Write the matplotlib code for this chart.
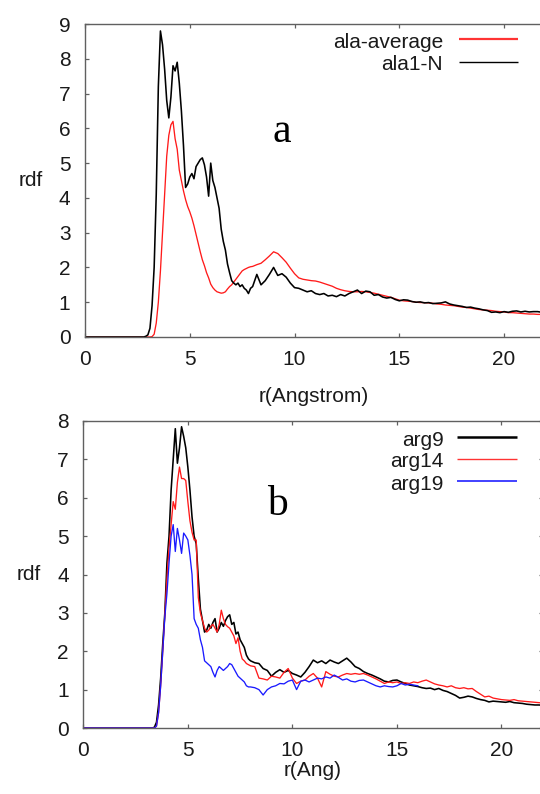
import numpy as np
import matplotlib
matplotlib.use("Agg")
import matplotlib.pyplot as plt

plt.rcParams['font.family'] = ['Liberation Sans', 'DejaVu Sans']

# sampling grid of r (Angstrom): 0, then 2.5..7.9 step 0.1, then 8.0..23.0 step 0.2
r = np.concatenate(([0.0], np.linspace(2.5, 7.9, 55), np.linspace(8.0, 23.0, 76)))

# panel a
ala_average = [0.0,
    0, 0, 0, 0, 0,
    0, 0, 0.01, 0.08, 0.4, 1.0, 1.9, 3.0, 4.1, 5.2,
    5.8, 6.1, 6.2, 5.7, 5.4, 4.8, 4.5, 4.2, 3.95, 3.75,
    3.6, 3.42, 3.2, 2.95, 2.7, 2.45, 2.22, 2.05, 1.85, 1.7,
    1.52, 1.42, 1.35, 1.3, 1.28, 1.26, 1.27, 1.3, 1.38, 1.45,
    1.5, 1.58, 1.66, 1.74, 1.82, 1.9, 1.94, 1.97, 2.0, 2.02,
    2.03, 2.08, 2.12, 2.22, 2.33,
    2.45, 2.4, 2.28, 2.15, 1.98,
    1.82, 1.7, 1.66, 1.64, 1.62,
    1.61, 1.58, 1.54, 1.5, 1.46,
    1.4, 1.36, 1.33, 1.31, 1.3,
    1.3, 1.31, 1.3, 1.28, 1.26,
    1.23, 1.2, 1.17, 1.14, 1.1,
    1.06, 1.04, 1.03, 1.02, 1.0,
    0.99, 0.99, 0.98, 0.97, 0.95,
    0.94, 0.92, 0.91, 0.9, 0.88,
    0.86, 0.85, 0.83, 0.81, 0.79,
    0.78, 0.77, 0.76, 0.74, 0.73,
    0.72, 0.7, 0.7, 0.69, 0.68,
    0.67, 0.66, 0.66, 0.65, 0.65,
    0.64, 0.64, 0.63, 0.63, 0.62,
    0.62]

ala1_N = [0.0,
    0, 0, 0, 0, 0.02,
    0.06, 0.25, 0.9, 2.0, 4.1, 7.2, 8.8, 8.4, 7.7, 6.8,
    6.3, 6.9, 7.8, 7.65, 7.9, 7.3, 6.5, 5.5, 4.3, 4.4,
    4.6, 4.7, 4.55, 4.9, 5.0, 5.1, 5.15, 4.95, 4.6, 4.05,
    5.0, 4.5, 4.3, 4.0, 3.7, 3.1, 2.75, 2.5, 2.1, 1.85,
    1.62, 1.55, 1.5, 1.55, 1.45, 1.5, 1.4, 1.35, 1.25, 1.4,
    1.45, 1.8, 1.5, 1.62, 1.8,
    2.0, 1.77, 1.82, 1.72, 1.55,
    1.42, 1.4, 1.35, 1.3, 1.33,
    1.25, 1.22, 1.25, 1.18, 1.2,
    1.16, 1.22, 1.18, 1.25, 1.3,
    1.35, 1.25, 1.32, 1.3, 1.2,
    1.22, 1.15, 1.12, 1.14, 1.08,
    1.04, 1.07, 1.06, 1.02, 1.0,
    1.01, 0.98, 0.99, 0.96, 0.97,
    0.98, 1.01, 0.95, 0.92, 0.9,
    0.88, 0.85, 0.86, 0.83, 0.81,
    0.78, 0.76, 0.71, 0.72, 0.7,
    0.73, 0.71, 0.74, 0.75, 0.72,
    0.74, 0.72, 0.73, 0.73, 0.71,
    0.7, 0.72, 0.7, 0.71, 0.69,
    0.7]

# panel b
arg9 = [0.0,
    0, 0, 0, 0, 0,
    0, 0, 0, 0, 0.02, 0.15, 0.6, 1.3, 2.2, 3.0,
    4.3, 5.0, 6.2, 7.0, 7.8, 6.9, 7.3, 7.85, 7.6, 7.3,
    6.8, 6.2, 5.5, 5.0, 4.8, 3.9, 3.1, 2.8, 2.5, 2.55,
    2.7, 2.6, 2.75, 2.85, 2.5, 2.6, 2.75, 2.65, 2.8, 2.9,
    2.95, 2.7, 2.75, 2.45, 2.5, 2.3, 2.2, 2.1, 1.9, 1.8,
    1.75, 1.7, 1.68, 1.55, 1.5,
    1.35, 1.45, 1.52, 1.45, 1.5,
    1.42, 1.38, 1.33, 1.45, 1.6,
    1.77, 1.7, 1.75, 1.68, 1.77,
    1.72, 1.68, 1.75, 1.82, 1.72,
    1.6, 1.55, 1.47, 1.42, 1.38,
    1.33, 1.28, 1.22, 1.2, 1.24,
    1.25, 1.2, 1.16, 1.12, 1.1,
    1.08, 1.05, 1.03, 1.04, 1.0,
    1.03, 0.98, 0.95, 0.9, 0.85,
    0.78, 0.8, 0.83, 0.81, 0.77,
    0.74, 0.72, 0.68, 0.7, 0.69,
    0.68, 0.67, 0.69, 0.66, 0.65,
    0.64, 0.62, 0.61, 0.6, 0.6,
    0.59, 0.6, 0.58, 0.58, 0.57,
    0.57]

arg14 = [0.0,
    0, 0, 0, 0, 0,
    0, 0, 0, 0, 0, 0.05, 0.4, 1.1, 2.0, 2.95,
    3.9, 4.7, 5.3, 5.9, 5.7, 6.4, 6.8, 6.5, 6.5, 6.45,
    5.9, 5.4, 5.1, 4.9, 4.9, 3.4, 3.0, 2.8, 2.6, 2.5,
    2.55, 2.65, 2.7, 2.6, 2.5, 2.7, 3.07, 2.85, 2.7, 2.64,
    2.6, 2.5, 2.4, 2.2, 2.35, 2.0, 1.8, 1.75, 1.68, 1.65,
    1.62, 1.6, 1.3, 1.28, 1.25,
    1.35, 1.33, 1.3, 1.45, 1.55,
    1.3, 1.16, 1.22, 1.25, 1.35,
    1.42, 1.3, 1.07, 1.47, 1.4,
    1.35, 1.33, 1.38, 1.42, 1.4,
    1.42, 1.4, 1.42, 1.38, 1.33,
    1.28, 1.22, 1.16, 1.2, 1.18,
    1.2, 1.16, 1.18, 1.16, 1.2,
    1.18, 1.22, 1.25, 1.2, 1.15,
    1.12, 1.1, 1.07, 1.1, 1.05,
    1.03, 1.05, 1.02, 1.03, 0.95,
    0.88, 0.81, 0.83, 0.78, 0.76,
    0.74, 0.73, 0.72, 0.74, 0.71,
    0.7, 0.69, 0.68, 0.67, 0.66,
    0.65, 0.64, 0.63, 0.63, 0.62,
    0.62]

# arg19 stops at r = 16
arg19 = [0.0,
    0, 0, 0, 0, 0,
    0, 0, 0, 0, 0, 0.05, 0.4, 1.1, 2.0, 2.9,
    3.5, 4.3, 5.0, 5.3, 4.6, 5.2, 4.9, 4.55, 5.08, 5.0,
    4.9, 4.5, 4.0, 2.85, 2.7, 2.6, 2.3, 2.1, 1.75, 1.7,
    1.65, 1.6, 1.45, 1.33, 1.5, 1.6, 1.55, 1.5, 1.55, 1.6,
    1.68, 1.65, 1.55, 1.45, 1.35, 1.3, 1.25, 1.2, 1.1, 1.07,
    1.07, 1.05, 1.0, 0.86, 1.0,
    1.07, 1.1, 1.16, 1.15, 1.22,
    1.25, 1.0, 1.22, 1.25, 1.2,
    1.25, 1.3, 1.28, 1.33, 1.3,
    1.38, 1.32, 1.25, 1.28, 1.22,
    1.2, 1.24, 1.25, 1.2, 1.15,
    1.1, 1.07, 1.1, 1.08, 1.07,
    1.1, 1.16, 1.12, 1.14, 1.12,
    1.1]

legend_a = ['ala-average', 'ala1-N']
legend_b = ['arg9', 'arg14', 'arg19']

GRID = '#606060'
TXT = '#1a1a1a'


def style(ax, ymax):
    ax.set_xlim(0, 22)
    ax.set_ylim(0, ymax)
    ax.set_xticks([0, 5, 10, 15, 20])
    ax.set_yticks(range(0, ymax + 1))
    ax.tick_params(direction='in', length=3, width=0.9, color=GRID,
                   top=True, right=True, labelsize=15, labelcolor=TXT)
    ax.tick_params(axis='x', pad=9.7)
    ax.tick_params(axis='y', pad=10.5)
    for s in ax.spines.values():
        s.set_color(GRID)
        s.set_linewidth(1.0)


def legend(ax, labels, colors, widths, x_txt, x0, x1, y_txt, y_line):
    for lab, c, lw, yt, yl in zip(labels, colors, widths, y_txt, y_line):
        ax.text(x_txt, yt, lab, transform=ax.transAxes, ha='right',
                va='baseline', fontsize=15, color=TXT)
        ax.plot([x0, x1], [yl, yl], transform=ax.transAxes, color=c, lw=lw,
                solid_capstyle='butt')


fig = plt.figure(figsize=(5.4, 7.94), dpi=100)

# ---- panel a
ax1 = fig.add_axes([85 / 540, 457 / 794, 461 / 540, 313 / 794])
ax1.plot(r, ala_average, color='#ff1a1a', lw=0.95)
ax1.plot(r, ala1_N, color='black', lw=1.15)
style(ax1, 9)
ax1.set_xlabel('r(Angstrom)', fontsize=15, color=TXT)
ax1.xaxis.set_label_coords(0.497, -0.160)
ax1.set_ylabel('rdf', fontsize=15, color=TXT, rotation=0, ha='center', va='center')
ax1.yaxis.set_label_coords(-0.117, 0.5)
legend(ax1, legend_a, ['#ff3333', 'black'], [1.6, 1.0],
       0.777, 0.811, 0.940, [0.922, 0.853], [0.951, 0.880])
ax1.text(0.427, 0.624, 'a', transform=ax1.transAxes, ha='center', va='baseline',
         fontsize=30, family='Liberation Serif', color='black')

# ---- panel b
ax2 = fig.add_axes([83.3 / 540, 66 / 794, 460 / 540, 307 / 794])
ax2.plot(r, arg9, color='black', lw=1.15)
ax2.plot(r, arg14, color='#ff1a1a', lw=0.95)
ax2.plot(r[:len(arg19)], arg19, color='#1a1aff', lw=0.95)
style(ax2, 8)
ax2.set_xlabel('r(Ang)', fontsize=15, color=TXT)
ax2.xaxis.set_label_coords(0.499, -0.107)
ax2.set_ylabel('rdf', fontsize=15, color=TXT, rotation=0, ha='center', va='center')
ax2.yaxis.set_label_coords(-0.118, 0.5)
legend(ax2, legend_b, ['black', '#ff3333', '#3333ff'], [1.8, 1.0, 1.3],
       0.783, 0.813, 0.943, [0.919, 0.849, 0.775], [0.947, 0.876, 0.805])
ax2.text(0.423, 0.694, 'b', transform=ax2.transAxes, ha='center', va='baseline',
         fontsize=30, family='Liberation Serif', color='black')

fig.savefig('out.png', dpi=100)
